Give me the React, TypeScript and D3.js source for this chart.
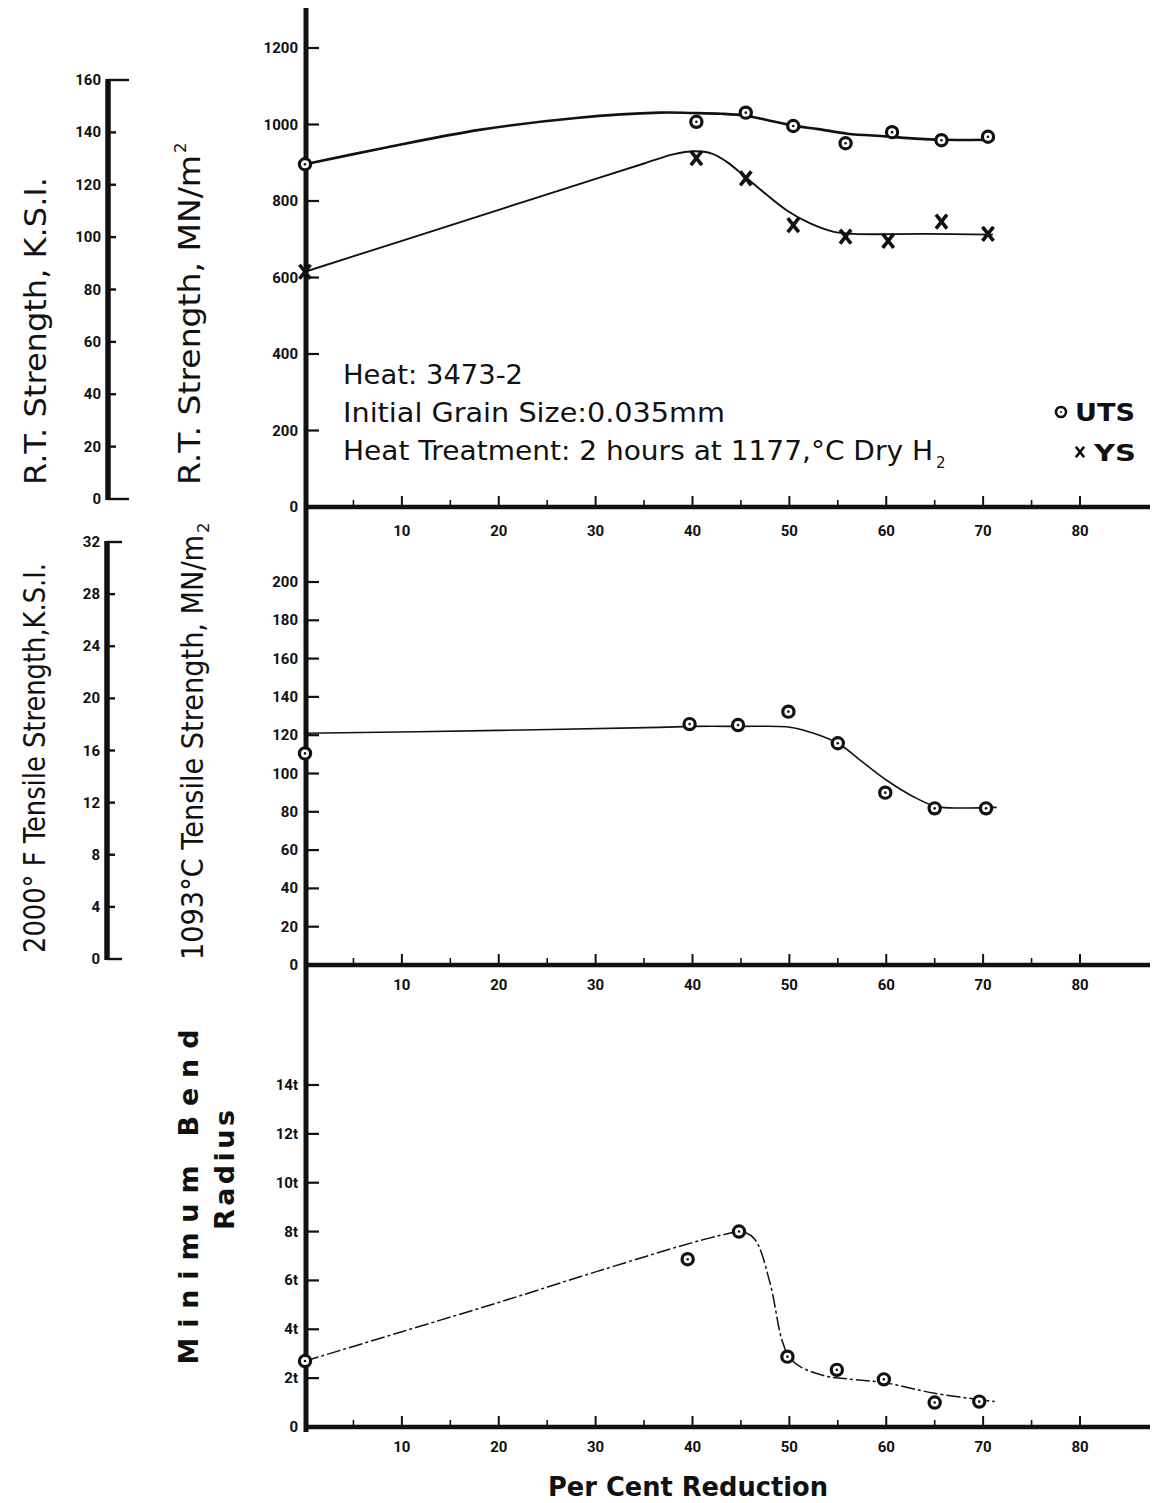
import React from "react";
import * as d3 from "d3";

const W = 1173;
const H = 1503;
const INK = "#111";
const FONT = "'DejaVu Sans', Verdana, sans-serif";
const TICKFONT = "Roboto, 'DejaVu Sans', sans-serif";

// ---------- Data ----------
// Panel 1: room-temperature strength (MN/m^2)
const utsPct = [0, 40.4, 45.5, 50.4, 55.8, 60.6, 65.7, 70.5];
const utsRT = [896, 1007, 1031, 996, 951, 980, 959, 968];
const ysPct = [0, 40.4, 45.5, 50.4, 55.8, 60.2, 65.7, 70.5];
const ysRT = [615, 912, 859, 737, 707, 696, 746, 714];
// hand-drawn fit curves
const utsFitPct = [0, 8, 18, 28, 36.6, 40, 43, 45.5, 48, 50.4, 53, 56, 60, 63, 66, 71];
const utsFitVal = [896, 938, 986, 1017, 1031, 1030, 1028, 1023, 1010, 997, 988, 976, 969, 963, 960, 960];
const ysFitPct = [0, 10, 20, 30, 35, 38, 40.2, 42, 43.5, 45.5, 47, 49.7, 52.1, 54.5, 56.6, 64, 71];
const ysFitVal = [615, 696, 777, 858, 898, 922, 930, 924, 903, 862, 830, 776, 742, 720, 714, 714, 712];

// Panel 2: 1093 C tensile strength (MN/m^2)
const hotPct = [0, 39.7, 44.7, 49.9, 55, 59.9, 65, 70.3];
const hotUTS = [110.5, 125.8, 125.3, 132.3, 115.8, 90, 81.8, 81.8];
const hotFitPct = [0, 20, 36.6, 40, 45, 49.7, 51.4, 55, 57.3, 60, 62.8, 65.2, 68, 71.4];
const hotFitVal = [121, 122.5, 124.1, 124.6, 124.6, 124.4, 122.7, 115.8, 107, 96.6, 87.9, 82.7, 82, 82.3];

// Panel 3: minimum bend radius (t)
const bendPct = [0, 39.5, 44.8, 49.8, 54.9, 59.75, 65, 69.6];
const bendVal = [2.7, 6.87, 8.0, 2.88, 2.34, 1.95, 1.0, 1.04];
const bendFitPct = [0, 10, 20, 30, 40, 43.5, 45, 46.4, 48, 49.2, 50, 51.2, 53.8, 56, 60, 65, 71.2];
const bendFitVal = [2.7, 3.9, 5.1, 6.35, 7.55, 7.9, 8.0, 7.7, 5.9, 3.6, 2.85, 2.45, 2.08, 1.97, 1.8, 1.38, 1.04];

// Ticks
const pctMajor = [10, 20, 30, 40, 50, 60, 70, 80];
const pctMinor = [5, 15, 25, 35, 45, 55, 65, 75];
const rtMNTicks = [0, 200, 400, 600, 800, 1000, 1200];
const rtKsiTicks = [0, 20, 40, 60, 80, 100, 120, 140, 160];
const hotMNTicks = [0, 20, 40, 60, 80, 100, 120, 140, 160, 180, 200];
const hotKsiTicks = [0, 4, 8, 12, 16, 20, 24, 28, 32];
const bendTicks = [0, 2, 4, 6, 8, 10, 12, 14];
const bendTickLabels = ["0", "2t", "4t", "6t", "8t", "10t", "12t", "14t"];

// ---------- Helpers ----------
function CircleMark({ cx, cy, r = 5.6 }: { cx: number; cy: number; r?: number }) {
  return (
    <g>
      <circle cx={cx} cy={cy} r={r} fill="white" stroke={INK} strokeWidth={3.2} />
      <circle cx={cx} cy={cy} r={1.3} fill={INK} />
    </g>
  );
}

function XMark({ cx, cy, s = 1 }: { cx: number; cy: number; s?: number }) {
  const w = 5.5 * s;
  const h = 7 * s;
  return (
    <path
      d={`M${cx - w},${cy - h}L${cx + w},${cy + h}M${cx + w},${cy - h}L${cx - w},${cy + h}`}
      stroke={INK}
      strokeWidth={3.6 * s}
      fill="none"
    />
  );
}

export default function App() {
  const x = d3.scaleLinear().domain([0, 80]).range([305, 1080]);
  const y1 = d3.scaleLinear().domain([0, 1200]).range([507, 48]);
  const k1 = d3.scaleLinear().domain([0, 160]).range([499, 80]);
  const y2 = d3.scaleLinear().domain([0, 200]).range([965, 582]);
  const k2 = d3.scaleLinear().domain([0, 32]).range([959, 542]);
  const y3 = d3.scaleLinear().domain([0, 14]).range([1427, 1085]);

  const mkLine = (ys: d3.ScaleLinear<number, number>) =>
    d3
      .line<[number, number]>()
      .x((d) => x(d[0]))
      .y((d) => ys(d[1]))
      .curve(d3.curveCatmullRom.alpha(0.5));

  const utsFit = d3.zip(utsFitPct, utsFitVal) as [number, number][];
  const ysFit = d3.zip(ysFitPct, ysFitVal) as [number, number][];
  const hotFit = d3.zip(hotFitPct, hotFitVal) as [number, number][];
  const bendFit = d3.zip(bendFitPct, bendFitVal) as [number, number][];

  const axisX0 = 306;
  const xEnd = 1150;

  const xAxis = (baseY: number, labelY: number) => (
    <g>
      <line x1={axisX0} x2={xEnd} y1={baseY} y2={baseY} stroke={INK} strokeWidth={4.5} />
      {pctMajor.map((t) => (
        <line key={"M" + t} x1={x(t)} x2={x(t)} y1={baseY} y2={baseY - 11} stroke={INK} strokeWidth={2} />
      ))}
      {pctMinor.map((t) => (
        <line key={"m" + t} x1={x(t)} x2={x(t)} y1={baseY} y2={baseY - 7} stroke={INK} strokeWidth={1.6} />
      ))}
      {pctMajor.map((t) => (
        <text
          key={"l" + t}
          x={x(t)}
          y={labelY}
          textAnchor="middle"
          fontFamily={TICKFONT}
          fontWeight="bold"
          fontSize={15}
          fill={INK}
        >
          {t}
        </text>
      ))}
    </g>
  );

  const yTicks = (
    ys: d3.ScaleLinear<number, number>,
    ticks: number[],
    labels?: string[]
  ) => (
    <g>
      {ticks.map((t, i) => (
        <g key={t}>
          <line x1={axisX0} x2={axisX0 + 13} y1={ys(t)} y2={ys(t)} stroke={INK} strokeWidth={2.2} />
          <text
            x={298}
            y={ys(t) + 5}
            textAnchor="end"
            fontFamily={TICKFONT}
            fontWeight="bold"
            fontSize={15}
            fill={INK}
          >
            {labels ? labels[i] : t}
          </text>
        </g>
      ))}
    </g>
  );

  const ksiAxis = (
    ks: d3.ScaleLinear<number, number>,
    ticks: number[],
    ax: number,
    bracket: number
  ) => {
    const [lo, hi] = ks.domain();
    return (
      <g>
        <line x1={ax} x2={ax} y1={ks(hi) - 1} y2={ks(lo) + 1} stroke={INK} strokeWidth={5.5} />
        {ticks.map((t) => {
          const end = t === lo || t === hi ? ax + bracket : ax + 8;
          return (
            <g key={t}>
              <line x1={ax} x2={end} y1={ks(t)} y2={ks(t)} stroke={INK} strokeWidth={2.4} />
              <text
                x={ax - 7}
                y={ks(t) + 5}
                textAnchor="end"
                fontFamily={TICKFONT}
                fontWeight="bold"
                fontSize={15}
                fill={INK}
              >
                {t}
              </text>
            </g>
          );
        })}
      </g>
    );
  };

  const vLabel = (
    text: string,
    baseX: number,
    bottomY: number,
    len: number,
    size: number,
    weight: string,
    extra?: { t: string; dy: number }
  ) => (
    <g transform={`translate(${baseX},${bottomY}) rotate(-90)`}>
      <text
        x={0}
        y={0}
        fontFamily={FONT}
        fontSize={size}
        fontWeight={weight}
        fill={INK}
        textLength={len}
        lengthAdjust="spacingAndGlyphs"
      >
        {text}
      </text>
      {extra && (
        <text x={len + 2} y={extra.dy} fontFamily={FONT} fontSize={size * 0.55} fontWeight={weight} fill={INK}>
          {extra.t}
        </text>
      )}
    </g>
  );

  return (
    <div style={{ position: "absolute", left: 0, top: 0, width: W, height: H }}>
      <svg width={W} height={H} viewBox={`0 0 ${W} ${H}`} style={{ display: "block", background: "white" }}>
        <rect x={0} y={0} width={W} height={H} fill="white" />

        {/* main vertical axis through all panels */}
        <line x1={axisX0} x2={axisX0} y1={8} y2={1432} stroke={INK} strokeWidth={5} />

        {/* ---------- Panel 1 ---------- */}
        {yTicks(y1, rtMNTicks)}
        {ksiAxis(k1, rtKsiTicks, 108, 21)}
        {xAxis(507, 536)}
        {vLabel("R.T. Strength, K.S.I.", 46, 485, 308, 30, "normal")}
        {vLabel("R.T. Strength, MN/m", 200, 485, 330, 30, "normal", { t: "2", dy: -14 })}

        <path d={mkLine(y1)(utsFit) || ""} fill="none" stroke={INK} strokeWidth={2.6} />
        <path d={mkLine(y1)(ysFit) || ""} fill="none" stroke={INK} strokeWidth={1.9} />
        {utsPct.map((p, i) => (
          <CircleMark key={"u" + i} cx={x(p)} cy={y1(utsRT[i])} />
        ))}
        {ysPct.map((p, i) => (
          <XMark key={"y" + i} cx={x(p)} cy={y1(ysRT[i])} />
        ))}

        <g fontFamily={FONT} fill={INK} fontSize={27}>
          <text x={343} y={384} textLength={180} lengthAdjust="spacingAndGlyphs">
            Heat: 3473-2
          </text>
          <text x={343} y={422} textLength={382} lengthAdjust="spacingAndGlyphs">
            Initial Grain Size:0.035mm
          </text>
          <text x={343} y={460} textLength={590} lengthAdjust="spacingAndGlyphs">
            Heat Treatment: 2 hours at 1177,°C Dry H
          </text>
          <text x={936} y={468} fontSize={15}>
            2
          </text>
        </g>

        {/* legend */}
        <circle cx={1061} cy={412} r={5} fill="white" stroke={INK} strokeWidth={2.6} />
        <circle cx={1061} cy={412} r={1} fill={INK} />
        <text
          x={1075}
          y={421}
          fontFamily={FONT}
          fontWeight="bold"
          fontSize={24}
          fill={INK}
          textLength={60}
          lengthAdjust="spacingAndGlyphs"
        >
          UTS
        </text>
        <XMark cx={1080} cy={452} s={0.75} />
        <text
          x={1094}
          y={461}
          fontFamily={FONT}
          fontWeight="bold"
          fontSize={23}
          fill={INK}
          textLength={42}
          lengthAdjust="spacingAndGlyphs"
        >
          YS
        </text>

        {/* ---------- Panel 2 ---------- */}
        {yTicks(y2, hotMNTicks)}
        {ksiAxis(k2, hotKsiTicks, 107, 15)}
        {xAxis(965, 990)}
        {vLabel("2000° F Tensile Strength,K.S.I.", 45, 953, 390, 30, "normal")}
        {vLabel("1093°C Tensile Strength, MN/m", 203, 960, 425, 30, "normal", { t: "2", dy: 6 })}

        <path d={mkLine(y2)(hotFit) || ""} fill="none" stroke={INK} strokeWidth={1.6} />
        {hotPct.map((p, i) => (
          <CircleMark key={"h" + i} cx={x(p)} cy={y2(hotUTS[i])} />
        ))}

        {/* ---------- Panel 3 ---------- */}
        {yTicks(y3, bendTicks, bendTickLabels)}
        {xAxis(1427, 1452)}
        <g fontFamily={FONT} fontWeight="bold" fill={INK} fontSize={27}>
          <text
            transform={`translate(198,1197) rotate(-90)`}
            textAnchor="middle"
            textLength={335}
            lengthAdjust="spacing"
          >
            Minimum Bend
          </text>
          <text
            transform={`translate(234,1170) rotate(-90)`}
            textAnchor="middle"
            textLength={120}
            lengthAdjust="spacing"
          >
            Radius
          </text>
        </g>

        <path
          d={mkLine(y3)(bendFit) || ""}
          fill="none"
          stroke={INK}
          strokeWidth={1.5}
          strokeDasharray="14 3 3 3"
        />
        {bendPct.map((p, i) => (
          <CircleMark key={"b" + i} cx={x(p)} cy={y3(bendVal[i])} />
        ))}

        <text
          x={688}
          y={1496}
          textAnchor="middle"
          fontFamily={FONT}
          fontWeight="bold"
          fontSize={26}
          fill={INK}
          textLength={280}
          lengthAdjust="spacingAndGlyphs"
        >
          Per Cent Reduction
        </text>
      </svg>
    </div>
  );
}
